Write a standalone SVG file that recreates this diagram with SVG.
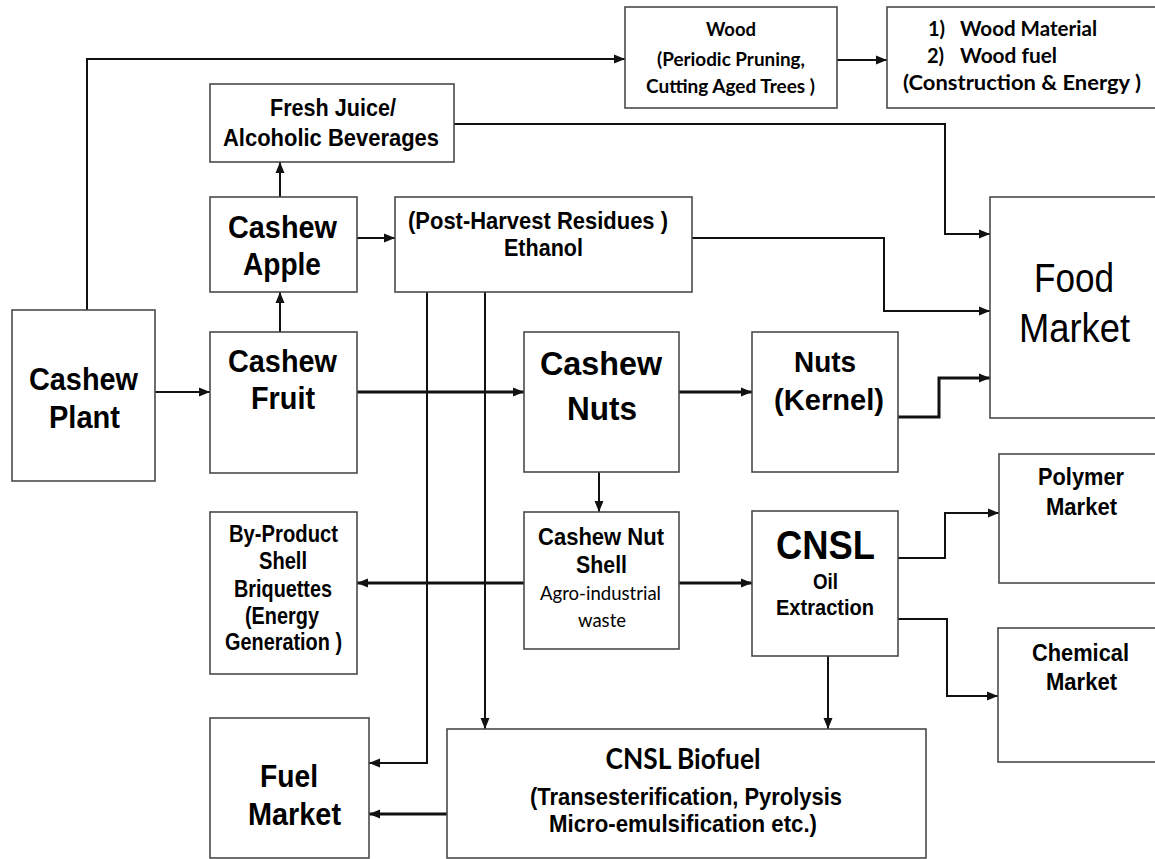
<svg xmlns="http://www.w3.org/2000/svg" width="1155" height="859" viewBox="0 0 1155 859">
  <style>
    .box { fill: #ffffff; stroke: #4a4a4a; stroke-width: 1.6; }
    .ln { fill: none; stroke: #111111; stroke-width: 2; }
    .thick { stroke-width: 3; }
    .t { font-family: "Liberation Sans", Arial, sans-serif; font-weight: bold; fill: #000; text-anchor: middle; }
    .c { font-family: Lato, "Open Sans", "Liberation Sans", sans-serif; font-weight: bold; fill: #000; text-anchor: middle; }
    .cr { font-family: Lato, "Open Sans", "Liberation Sans", sans-serif; font-weight: normal; fill: #000; text-anchor: middle; }
    .r { font-family: "Liberation Sans", Arial, sans-serif; font-weight: normal; fill: #000; text-anchor: middle; }
  </style>
  <defs>
    <marker id="arr" markerUnits="userSpaceOnUse" markerWidth="12" markerHeight="10" refX="11" refY="5" orient="auto">
      <path d="M0,0.5 L11,5 L0,9.5 z" fill="#111"/>
    </marker>
  </defs>
  <rect width="1155" height="859" fill="#ffffff"/>

  <g id="connectors">
    <path class="ln" d="M87,310 V59 H625" marker-end="url(#arr)"/>
    <path class="ln" d="M837,60 H887" marker-end="url(#arr)"/>
    <path class="ln" d="M280,197 V162" marker-end="url(#arr)"/>
    <path class="ln" d="M280,332 V292" marker-end="url(#arr)"/>
    <path class="ln" d="M357,238 H395" marker-end="url(#arr)"/>
    <path class="ln" d="M454,124 H945 V234 H990" marker-end="url(#arr)"/>
    <path class="ln" d="M692,238 H884 V311 H990" marker-end="url(#arr)"/>
    <path class="ln" d="M155,392 H210" marker-end="url(#arr)"/>
    <path class="ln thick" d="M357,392 H524" marker-end="url(#arr)"/>
    <path class="ln thick" d="M679,392 H752" marker-end="url(#arr)"/>
    <path class="ln thick" d="M898,417 H939 V378 H990" marker-end="url(#arr)"/>
    <path class="ln" d="M599,472 V512" marker-end="url(#arr)"/>
    <path class="ln thick" d="M524,583 H357" marker-end="url(#arr)"/>
    <path class="ln thick" d="M679,583 H752" marker-end="url(#arr)"/>
    <path class="ln" d="M898,558 H945 V513 H999" marker-end="url(#arr)"/>
    <path class="ln" d="M898,619 H947 V696 H998" marker-end="url(#arr)"/>
    <path class="ln" d="M828,656 V729" marker-end="url(#arr)"/>
    <path class="ln" d="M427,292 V763 H369" marker-end="url(#arr)"/>
    <path class="ln" d="M485,292 V729" marker-end="url(#arr)"/>
    <path class="ln thick" d="M447,814 H369" marker-end="url(#arr)"/>
  </g>

  <g id="cashew-plant">
    <rect class="box" x="12" y="310" width="143" height="171"/>
    <text class="t" x="83.5" y="390" font-size="31" textLength="109" lengthAdjust="spacingAndGlyphs">Cashew</text>
    <text class="t" x="84.5" y="428" font-size="31" textLength="71" lengthAdjust="spacingAndGlyphs">Plant</text>
  </g>

  <g id="cashew-fruit">
    <rect class="box" x="210" y="332" width="147" height="141"/>
    <text class="t" x="282.5" y="372" font-size="31" textLength="109" lengthAdjust="spacingAndGlyphs">Cashew</text>
    <text class="t" x="283" y="409" font-size="31" textLength="64" lengthAdjust="spacingAndGlyphs">Fruit</text>
  </g>

  <g id="cashew-apple">
    <rect class="box" x="210" y="197" width="147" height="95"/>
    <text class="t" x="282.5" y="238" font-size="31" textLength="109" lengthAdjust="spacingAndGlyphs">Cashew</text>
    <text class="t" x="282" y="275" font-size="31" textLength="78" lengthAdjust="spacingAndGlyphs">Apple</text>
  </g>

  <g id="fresh-juice">
    <rect class="box" x="210" y="84" width="244" height="78"/>
    <text class="t" x="333" y="116" font-size="24" textLength="126" lengthAdjust="spacingAndGlyphs">Fresh Juice/</text>
    <text class="t" x="331" y="146" font-size="24" textLength="216" lengthAdjust="spacingAndGlyphs">Alcoholic Beverages</text>
  </g>

  <g id="wood">
    <rect class="box" x="625" y="7" width="212" height="101"/>
    <text class="c" x="731" y="36" font-size="19" textLength="50" lengthAdjust="spacingAndGlyphs">Wood</text>
    <text class="c" x="731" y="66" font-size="19" textLength="148" lengthAdjust="spacingAndGlyphs">(Periodic Pruning,</text>
    <text class="c" x="730.5" y="93" font-size="19" textLength="169" lengthAdjust="spacingAndGlyphs">Cutting Aged Trees )</text>
  </g>

  <g id="wood-products">
    <rect class="box" x="887" y="7" width="275" height="101"/>
    <text class="c" x="928" y="36" font-size="20" text-anchor="start" style="text-anchor:start">1)</text>
    <text class="c" x="960" y="36" font-size="20" style="text-anchor:start" textLength="137" lengthAdjust="spacingAndGlyphs">Wood Material</text>
    <text class="c" x="927" y="63" font-size="20" style="text-anchor:start">2)</text>
    <text class="c" x="960" y="63" font-size="20" style="text-anchor:start" textLength="97" lengthAdjust="spacingAndGlyphs">Wood fuel</text>
    <text class="c" x="1022" y="90" font-size="20" textLength="238" lengthAdjust="spacingAndGlyphs">(Construction &amp; Energy )</text>
  </g>

  <g id="post-harvest">
    <rect class="box" x="395" y="197" width="297" height="95"/>
    <text class="t" x="538" y="229" font-size="24" textLength="260" lengthAdjust="spacingAndGlyphs">(Post-Harvest Residues )</text>
    <text class="t" x="543.5" y="256" font-size="24" textLength="79" lengthAdjust="spacingAndGlyphs">Ethanol</text>
  </g>

  <g id="food-market">
    <rect class="box" x="990" y="197" width="172" height="221"/>
    <text class="r" x="1074" y="292" font-size="40" textLength="80" lengthAdjust="spacingAndGlyphs">Food</text>
    <text class="r" x="1074.5" y="342" font-size="40" textLength="111" lengthAdjust="spacingAndGlyphs">Market</text>
  </g>

  <g id="cashew-nuts">
    <rect class="box" x="524" y="332" width="155" height="140"/>
    <text class="t" x="601" y="375" font-size="34" textLength="122" lengthAdjust="spacingAndGlyphs">Cashew</text>
    <text class="t" x="602" y="420" font-size="34" textLength="70" lengthAdjust="spacingAndGlyphs">Nuts</text>
  </g>

  <g id="nuts-kernel">
    <rect class="box" x="752" y="332" width="146" height="140"/>
    <text class="t" x="825" y="372" font-size="30" textLength="62" lengthAdjust="spacingAndGlyphs">Nuts</text>
    <text class="t" x="829" y="410" font-size="30" textLength="110" lengthAdjust="spacingAndGlyphs">(Kernel)</text>
  </g>

  <g id="cashew-nut-shell">
    <rect class="box" x="524" y="512" width="155" height="137"/>
    <text class="t" x="601" y="545" font-size="24" textLength="126" lengthAdjust="spacingAndGlyphs">Cashew Nut</text>
    <text class="t" x="601.5" y="573" font-size="24" textLength="51" lengthAdjust="spacingAndGlyphs">Shell</text>
    <text class="cr" x="600.5" y="600" font-size="19" textLength="121" lengthAdjust="spacingAndGlyphs">Agro-industrial</text>
    <text class="cr" x="602" y="627" font-size="19" textLength="48" lengthAdjust="spacingAndGlyphs">waste</text>
  </g>

  <g id="cnsl">
    <rect class="box" x="752" y="511" width="146" height="145"/>
    <text class="t" x="825.5" y="559" font-size="41" textLength="99" lengthAdjust="spacingAndGlyphs">CNSL</text>
    <text class="t" x="825.5" y="589" font-size="22" textLength="25" lengthAdjust="spacingAndGlyphs">Oil</text>
    <text class="t" x="825" y="615" font-size="22" textLength="98" lengthAdjust="spacingAndGlyphs">Extraction</text>
  </g>

  <g id="polymer-market">
    <rect class="box" x="999" y="454" width="163" height="129"/>
    <text class="t" x="1081" y="485" font-size="24" textLength="86" lengthAdjust="spacingAndGlyphs">Polymer</text>
    <text class="t" x="1081.5" y="515" font-size="24" textLength="71" lengthAdjust="spacingAndGlyphs">Market</text>
  </g>

  <g id="chemical-market">
    <rect class="box" x="998" y="628" width="164" height="134"/>
    <text class="t" x="1080.5" y="661" font-size="24" textLength="97" lengthAdjust="spacingAndGlyphs">Chemical</text>
    <text class="t" x="1081.5" y="690" font-size="24" textLength="71" lengthAdjust="spacingAndGlyphs">Market</text>
  </g>

  <g id="by-product">
    <rect class="box" x="210" y="512" width="147" height="162"/>
    <text class="t" x="283.5" y="542" font-size="24" textLength="109" lengthAdjust="spacingAndGlyphs">By-Product</text>
    <text class="t" x="283" y="569" font-size="24" textLength="48" lengthAdjust="spacingAndGlyphs">Shell</text>
    <text class="t" x="283" y="597" font-size="24" textLength="98" lengthAdjust="spacingAndGlyphs">Briquettes</text>
    <text class="t" x="282" y="624" font-size="24" textLength="74" lengthAdjust="spacingAndGlyphs">(Energy</text>
    <text class="t" x="283.5" y="650" font-size="24" textLength="117" lengthAdjust="spacingAndGlyphs">Generation )</text>
  </g>

  <g id="fuel-market">
    <rect class="box" x="210" y="718" width="159" height="140"/>
    <text class="t" x="289" y="787" font-size="31" textLength="58" lengthAdjust="spacingAndGlyphs">Fuel</text>
    <text class="t" x="294.5" y="825" font-size="31" textLength="93" lengthAdjust="spacingAndGlyphs">Market</text>
  </g>

  <g id="cnsl-biofuel">
    <rect class="box" x="447" y="729" width="479" height="129"/>
    <text class="c" x="683" y="769" font-size="29" textLength="155" lengthAdjust="spacingAndGlyphs">CNSL Biofuel</text>
    <text class="t" x="686" y="805" font-size="24" textLength="312" lengthAdjust="spacingAndGlyphs">(Transesterification, Pyrolysis</text>
    <text class="t" x="683" y="832" font-size="24" textLength="268" lengthAdjust="spacingAndGlyphs">Micro-emulsification etc.)</text>
  </g>
</svg>
